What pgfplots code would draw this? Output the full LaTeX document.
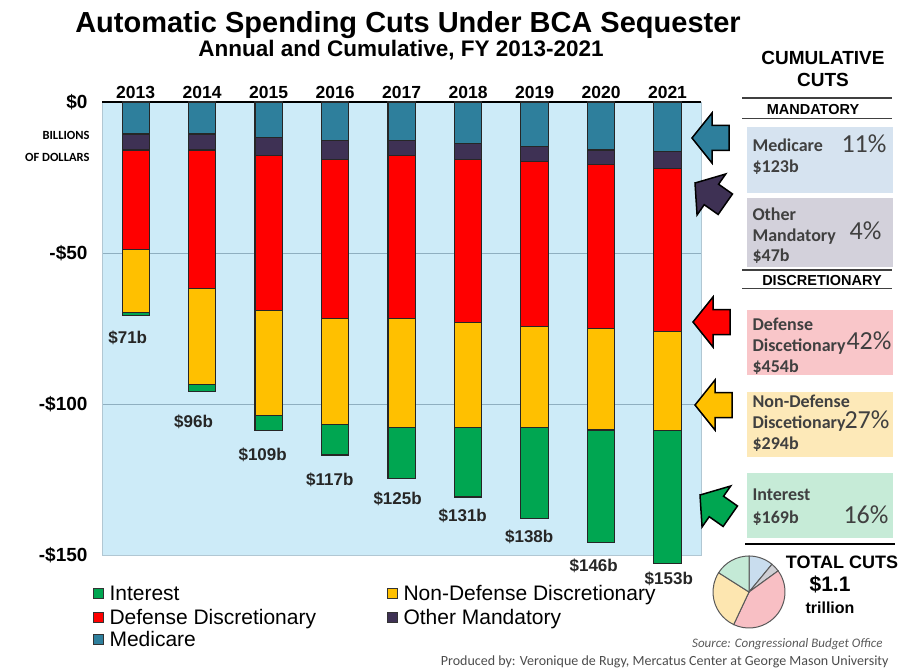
\documentclass[border=0pt]{standalone}
\usepackage{pgfplots}
\pgfplotsset{compat=1.18}
\usepackage{pgfplotstable}
\usepackage{fontspec}
\setmainfont{Liberation Sans}
\newfontfamily\calfont{Carlito}
\definecolor{cMed}{HTML}{2E7F9C}
\definecolor{cOm}{HTML}{3E3154}
\definecolor{cDef}{HTML}{FF0000}
\definecolor{cNdd}{HTML}{FFC000}
\definecolor{cInt}{HTML}{00A651}
\definecolor{cBg}{HTML}{CDEBF8}
\definecolor{cGrd}{HTML}{8FAFC0}
\definecolor{bxMed}{HTML}{D6E3F0}
\definecolor{bxOm}{HTML}{D3D1DB}
\definecolor{bxDef}{HTML}{F9C6C9}
\definecolor{bxNdd}{HTML}{FDE9B8}
\definecolor{bxInt}{HTML}{C6EBD7}
\definecolor{pMed}{HTML}{C9DDEE}
\definecolor{pOm}{HTML}{CFCFD4}
\definecolor{pDef}{HTML}{F8BFC4}
\definecolor{pNdd}{HTML}{FDE6B0}
\definecolor{pInt}{HTML}{C4EAD6}
\definecolor{cTxt}{HTML}{404040}

% values in billions of dollars (cuts shown as negatives)
\pgfplotstableread{
yr med om def ndd int
0 -10.6 -5.3 -33.0 -20.9 -1.0
1 -10.6 -5.3 -46.0 -31.6 -2.4
2 -11.7 -6.1 -51.1 -34.8 -5.0
3 -12.8 -6.1 -52.9 -34.9 -10.2
4 -12.8 -5.0 -54.0 -36.0 -17.0
5 -13.7 -5.2 -54.2 -34.7 -23.0
6 -14.8 -4.9 -54.5 -33.6 -30.2
7 -15.9 -4.9 -54.3 -33.5 -37.2
8 -16.4 -5.5 -54.0 -33.0 -44.0
}\cutsdata

\newcommand{\blockarrow}[4]{%
  \filldraw[fill=#1, draw=black, line width=1.5pt, line join=miter, shift={(#2pt,#3pt)}, rotate=#4]
  (0pt,0pt) -- (20pt,25pt) -- (20pt,12.5pt) -- (37pt,12.5pt) -- (37pt,-12.5pt) -- (20pt,-12.5pt) -- (20pt,-25pt) -- cycle;}
\tikzset{barlbl/.style={font=\fontsize{17}{20}\selectfont\bfseries, text=black!85}}

\begin{document}
\begin{tikzpicture}
\path (0pt,0pt) rectangle (902pt,-669pt);

% titles
\node[anchor=base, font=\fontsize{29}{33}\selectfont\bfseries] at (408pt,-33pt) {Automatic Spending Cuts Under BCA Sequester};
\node[anchor=base, font=\fontsize{22.5}{26}\selectfont\bfseries] at (401pt,-57pt) {Annual and Cumulative, FY 2013-2021};

\begin{axis}[
  at={(102pt,-102pt)}, anchor=north west, scale only axis,
  width=599pt, height=453pt,
  xmin=-0.507, xmax=8.504, ymin=-150, ymax=0, clip=false,
  ybar stacked, bar width=0.41,
  axis background/.style={fill=cBg},
  axis line style={draw=cGrd!70, line width=0.6pt},
  xtick={0,1,2,3,4,5,6,7,8},
  xticklabels={2013,2014,2015,2016,2017,2018,2019,2020,2021},
  xticklabel pos=upper,
  ytick={-150,-100,-50,0},
  yticklabels={-\$150,-\$100,-\$50,\$0},
  major tick length=0pt,
  ymajorgrids, grid style={draw=cGrd, line width=0.8pt},
  xticklabel style={font=\fontsize{17.5}{20}\selectfont\bfseries},
  yticklabel style={font=\fontsize{19}{22}\selectfont\bfseries, xshift=-11pt},
]
\addplot[fill=cMed, draw=black!85, line width=1.1pt] table[x=yr,y=med]{\cutsdata};
\addplot[fill=cOm,  draw=black!85, line width=1.1pt] table[x=yr,y=om]{\cutsdata};
\addplot[fill=cDef, draw=black!85, line width=1.1pt] table[x=yr,y=def]{\cutsdata};
\addplot[fill=cNdd, draw=black!85, line width=1.1pt] table[x=yr,y=ndd]{\cutsdata};
\addplot[fill=cInt, draw=black!85, line width=1.1pt] table[x=yr,y=int]{\cutsdata};
\draw[black, line width=1.8pt] (rel axis cs:0,1) -- (rel axis cs:1,1);
\node[barlbl] at (axis cs:-0.12,-78.0) {\$71b};
\node[barlbl] at (axis cs:0.87,-105.8) {\$96b};
\node[barlbl] at (axis cs:1.91,-116.7) {\$109b};
\node[barlbl] at (axis cs:2.92,-125.0) {\$117b};
\node[barlbl] at (axis cs:3.94,-131.5) {\$125b};
\node[barlbl] at (axis cs:4.92,-137.1) {\$131b};
\node[barlbl] at (axis cs:5.92,-144.1) {\$138b};
\node[barlbl] at (axis cs:6.89,-153.7) {\$146b};
\node[barlbl] at (axis cs:8.02,-158.0) {\$153b};
\end{axis}

% unit label
\node[anchor=base east, font=\calfont\bfseries\fontsize{12.5}{14}\selectfont] at (93pt,-140pt) {BILLIONS};
\node[anchor=base east, font=\calfont\bfseries\fontsize{12.5}{14}\selectfont] at (93pt,-162pt) {OF DOLLARS};

% legend
\filldraw[fill=cInt, draw=black!80, line width=0.6pt] (93pt,-588pt) rectangle (103pt,-598pt);
\node[anchor=base west, font=\fontsize{21}{24}\selectfont] at (106pt,-600.5pt) {Interest};
\filldraw[fill=cDef, draw=black!80, line width=0.6pt] (93pt,-612pt) rectangle (103pt,-622pt);
\node[anchor=base west, font=\fontsize{21}{24}\selectfont] at (106pt,-624.5pt) {Defense Discretionary};
\filldraw[fill=cMed, draw=black!80, line width=0.6pt] (93pt,-634pt) rectangle (103pt,-644pt);
\node[anchor=base west, font=\fontsize{21}{24}\selectfont] at (106pt,-646.5pt) {Medicare};
\filldraw[fill=cNdd, draw=black!80, line width=0.6pt] (387pt,-588pt) rectangle (397pt,-598pt);
\node[anchor=base west, font=\fontsize{21}{24}\selectfont] at (400pt,-600.5pt) {Non-Defense Discretionary};
\filldraw[fill=cOm, draw=black!80, line width=0.6pt] (387pt,-612pt) rectangle (397pt,-622pt);
\node[anchor=base west, font=\fontsize{21}{24}\selectfont] at (400pt,-624.5pt) {Other Mandatory};

% arrows
\blockarrow{cMed}{692}{-138}{0}
\blockarrow{cOm}{695}{-183}{-35}
\blockarrow{cDef}{693}{-322}{0}
\blockarrow{cNdd}{695}{-405}{0}
\blockarrow{cInt}{700}{-495}{-35}

% right panel
\node[anchor=base, font=\fontsize{19}{22}\selectfont\bfseries] at (823pt,-65pt) {CUMULATIVE};
\node[anchor=base, font=\fontsize{19}{22}\selectfont\bfseries] at (823pt,-87pt) {CUTS};
\draw[black!75, line width=1.8pt] (742pt,-98pt) -- (892pt,-98pt);
\node[anchor=base, font=\fontsize{14.5}{17}\selectfont\bfseries] at (813pt,-115pt) {MANDATORY};
\draw[black!75, line width=1.8pt] (742pt,-118.5pt) -- (892pt,-118.5pt);

\fill[bxMed] (747pt,-127pt) rectangle (893pt,-193pt);
\fill[bxOm] (747pt,-198pt) rectangle (893pt,-267pt);
\draw[black!75, line width=1.8pt] (742pt,-270pt) -- (892pt,-270pt);
\node[anchor=base, font=\fontsize{14.5}{17}\selectfont\bfseries] at (822pt,-285pt) {DISCRETIONARY};
\draw[black!75, line width=1.8pt] (742pt,-288.5pt) -- (892pt,-288.5pt);
\fill[bxDef] (747pt,-310pt) rectangle (893pt,-375pt);
\fill[bxNdd] (747pt,-392pt) rectangle (893pt,-457pt);
\fill[bxInt] (747pt,-473pt) rectangle (893pt,-538pt);
\draw[black, line width=1.8pt] (745pt,-544pt) -- (895pt,-544pt);

\tikzset{boxtxt/.style={anchor=base west, font=\calfont\bfseries\fontsize{18}{20}\selectfont, text=cTxt},
         pcttxt/.style={anchor=base east, font=\calfont\fontsize{26}{28}\selectfont, text=cTxt}}
\node[boxtxt] at (749pt,-152pt) {Medicare};
\node[boxtxt] at (749pt,-173pt) {\$123b};
\node[boxtxt] at (749pt,-221pt) {Other};
\node[boxtxt] at (749pt,-241pt) {Mandatory};
\node[boxtxt] at (749pt,-261pt) {\$47b};
\node[boxtxt] at (749pt,-330pt) {Defense};
\node[boxtxt] at (749pt,-351pt) {Discetionary};
\node[boxtxt] at (749pt,-372pt) {\$454b};
\node[boxtxt] at (749pt,-407pt) {Non-Defense};
\node[boxtxt] at (749pt,-428pt) {Discetionary};
\node[boxtxt] at (749pt,-449pt) {\$294b};
\node[boxtxt] at (749pt,-500pt) {Interest};
\node[boxtxt] at (749pt,-523pt) {\$169b};
\node[pcttxt] at (890pt,-153pt) {11\%};
\node[pcttxt] at (885pt,-240pt) {4\%};
\node[pcttxt] at (895pt,-349pt) {42\%};
\node[pcttxt] at (893pt,-428pt) {27\%};
\node[pcttxt] at (892pt,-523pt) {16\%};

% pie of cumulative shares: 11, 4, 42, 27, 16 percent
\begin{scope}[shift={(749pt,-592pt)}, draw=black!65, line width=1pt]
\filldraw[fill=pMed] (0pt,0pt) -- (90:36pt) arc[start angle=90, end angle=50.4, radius=36pt] -- cycle;
\filldraw[fill=pOm]  (0pt,0pt) -- (50.4:36pt) arc[start angle=50.4, end angle=36, radius=36pt] -- cycle;
\filldraw[fill=pDef] (0pt,0pt) -- (36:36pt) arc[start angle=36, end angle=-115.2, radius=36pt] -- cycle;
\filldraw[fill=pNdd] (0pt,0pt) -- (-115.2:36pt) arc[start angle=-115.2, end angle=-212.4, radius=36pt] -- cycle;
\filldraw[fill=pInt] (0pt,0pt) -- (-212.4:36pt) arc[start angle=-212.4, end angle=-270, radius=36pt] -- cycle;
\end{scope}

\node[anchor=base, font=\fontsize{18}{21}\selectfont\bfseries] at (842pt,-568pt) {TOTAL CUTS};
\node[anchor=base, font=\fontsize{21}{24}\selectfont\bfseries] at (830pt,-591pt) {\$1.1};
\node[anchor=base, font=\fontsize{16}{19}\selectfont\bfseries] at (830pt,-613pt) {trillion};

\node[anchor=base east, font=\calfont\itshape\fontsize{13}{15}\selectfont, text=black!65] at (886pt,-647pt) {Source: Congressional Budget Office};
\node[anchor=base east, font=\calfont\fontsize{14}{16}\selectfont, text=black!70] at (892pt,-665pt) {Produced by: Veronique de Rugy, Mercatus Center at George Mason University};
\end{tikzpicture}
\end{document}
